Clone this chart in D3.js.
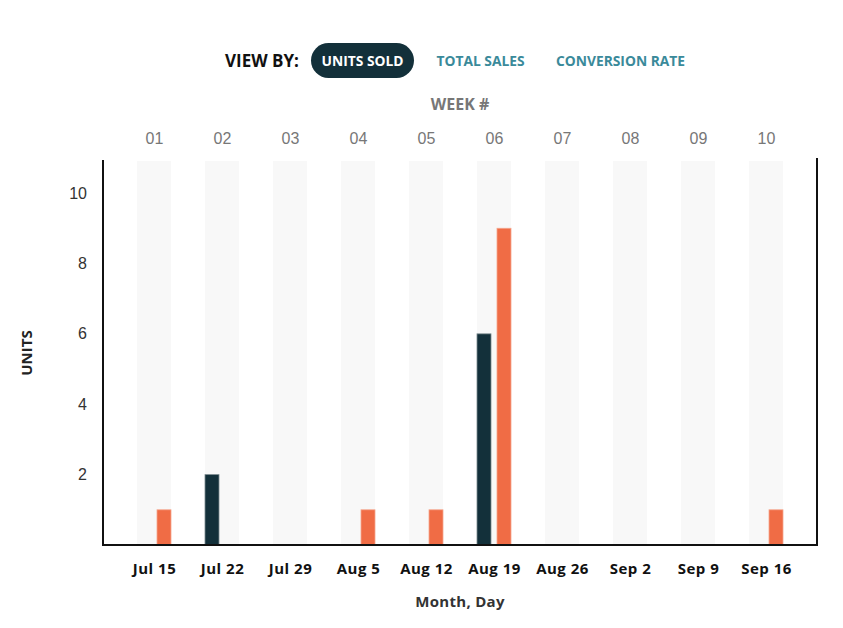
<!DOCTYPE html>
<html>
<head>
<meta charset="utf-8">
<script src="https://cdn.jsdelivr.net/npm/d3@7"></script>
<style>
  body { margin: 0; background: #fff; }
  svg { display: block; }
</style>
</head>
<body>
<svg id="chart" width="843" height="628"></svg>
<script>
const days = ["Jul 15","Jul 22","Jul 29","Aug 5","Aug 12","Aug 19","Aug 26","Sep 2","Sep 9","Sep 16"];
const weeks = ["01","02","03","04","05","06","07","08","09","10"];
const seriesNames = ["previous","current"];
const previousUnits = [0,2,0,0,0,6,0,0,0,0];
const currentUnits = [1,0,0,1,1,9,0,0,0,1];
const yTicks = [2,4,6,8,10];
const viewOptions = ["UNITS SOLD","TOTAL SALES","CONVERSION RATE"];

(function() {
const svg = d3.select("#chart");
const pLeft = 103, pRight = 817, pTop = 160, pBottom = 545;

const x = d3.scalePoint().domain(days).range([pLeft, pRight]).padding(0.75);
const bandW = 34;
const inner = d3.scaleBand().domain(seriesNames).range([0, bandW]).paddingInner(0.3);
const y = d3.scaleLinear().domain([0, 10.94]).range([pBottom, pTop]);

const colors = { previous: "#13303a", current: "#f06c45" };

// week background bands
svg.append("g").selectAll("rect").data(days).join("rect")
  .attr("x", d => x(d) - bandW/2).attr("y", pTop + 1)
  .attr("width", bandW).attr("height", pBottom - pTop - 1)
  .attr("fill", "#f8f8f8");

// bars
const data = days.map((d, i) => ({ day: d, previous: previousUnits[i], current: currentUnits[i] }));
const g = svg.append("g");
seriesNames.forEach(s => {
  g.selectAll("rect." + s).data(data.filter(d => d[s] > 0)).join("rect")
    .attr("class", s)
    .attr("x", d => x(d.day) - bandW/2 + inner(s))
    .attr("y", d => y(d[s]))
    .attr("width", inner.bandwidth())
    .attr("height", d => pBottom - y(d[s]))
    .attr("fill", colors[s])
    .attr("stroke", s === "previous" ? "#7a8a8f" : "#f5a58c")
    .attr("stroke-width", 0.8);
});

// y axis ticks
const yAxis = d3.axisLeft(y).tickValues(yTicks).tickSize(0).tickPadding(16);
const ya = svg.append("g").attr("transform", `translate(${pLeft},0)`).call(yAxis);
ya.select(".domain").remove();
ya.selectAll("text").attr("font-family", "Liberation Sans, Arial, sans-serif")
  .attr("font-size", 16).attr("fill", "#333");

// bottom axis labels
const xAxis = d3.axisBottom(x).tickSize(0).tickPadding(18.5);
const xa = svg.append("g").attr("transform", `translate(0,${pBottom})`).call(xAxis);
xa.select(".domain").remove();
xa.selectAll("text").attr("font-family", "Open Sans, sans-serif").attr("font-weight", 700)
  .attr("font-size", 15).attr("letter-spacing", 0.5).attr("fill", "#111");

// top week axis
const xTop = d3.scalePoint().domain(weeks).range([pLeft, pRight]).padding(0.75);
const ta = svg.append("g").attr("transform", `translate(0,${pTop - 16})`)
  .call(d3.axisTop(xTop).tickSize(0).tickPadding(0));
ta.select(".domain").remove();
ta.selectAll("text").attr("font-family", "Liberation Sans, Arial, sans-serif")
  .attr("font-size", 16).attr("fill", "#777");

// frame lines
svg.append("line").attr("x1", pLeft).attr("x2", pLeft).attr("y1", pTop).attr("y2", pBottom + 1)
  .attr("stroke", "#111").attr("stroke-width", 2);
svg.append("line").attr("x1", pRight).attr("x2", pRight).attr("y1", pTop - 2).attr("y2", pBottom + 1)
  .attr("stroke", "#111").attr("stroke-width", 2);
svg.append("line").attr("x1", pLeft - 1).attr("x2", pRight + 1).attr("y1", pBottom).attr("y2", pBottom)
  .attr("stroke", "#111").attr("stroke-width", 2);

// titles
svg.append("text").attr("x", 460).attr("y", 110).attr("text-anchor", "middle")
  .attr("font-family", "Open Sans, sans-serif").attr("font-weight", 700).attr("font-size", 16)
  .attr("fill", "#777").text("WEEK #");
svg.append("text").attr("x", 460).attr("y", 607).attr("text-anchor", "middle")
  .attr("font-family", "Open Sans, sans-serif").attr("font-weight", 700).attr("font-size", 15)
  .attr("letter-spacing", 0.3).attr("fill", "#333").text("Month, Day");
svg.append("text").attr("transform", "translate(32,353) rotate(-90)").attr("text-anchor", "middle")
  .attr("font-family", "Open Sans, sans-serif").attr("font-weight", 700).attr("font-size", 15)
  .attr("fill", "#222").text("UNITS");

// view by controls
svg.append("text").attr("x", 225).attr("y", 67)
  .attr("font-family", "Open Sans, sans-serif").attr("font-weight", 700).attr("font-size", 17)
  .attr("fill", "#111").text("VIEW BY:");
svg.append("rect").attr("x", 311).attr("y", 43).attr("width", 103).attr("height", 35)
  .attr("rx", 17.5).attr("fill", "#13303a");
const optX = [362.5, 480.5, 620.5];
svg.append("g").selectAll("text").data(viewOptions).join("text")
  .attr("x", (d, i) => optX[i]).attr("y", 65.5).attr("text-anchor", "middle")
  .attr("font-family", "Open Sans, sans-serif").attr("font-weight", 700).attr("font-size", 13.8)
  .attr("fill", (d, i) => i === 0 ? "#fff" : "#3a8a9a").text(d => d);
})();
</script>
</body>
</html>
